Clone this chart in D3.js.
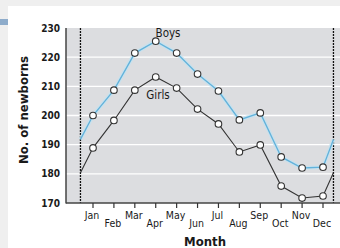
<!DOCTYPE html>
<html>
<head>
<meta charset="utf-8">
<script src="https://cdn.jsdelivr.net/npm/d3@7"></script>
<style>
body { margin: 0; background: #efefef; }
svg { display: block; }
text { font-family: "DejaVu Sans Condensed", "Liberation Sans Narrow", sans-serif; font-stretch: condensed; fill: #1a1a1a; }
</style>
</head>
<body>
<div id="chart"></div>
<script>
var months = ["Jan", "Feb", "Mar", "Apr", "May", "Jun", "Jul", "Aug", "Sep", "Oct", "Nov", "Dec"];
var boys = [200, 208.7, 221.4, 225.5, 221.4, 214.2, 208.4, 198.5, 200.9, 185.8, 182, 182.3];
var girls = [188.9, 198.3, 208.7, 213.2, 209.4, 202.2, 197.1, 187.5, 189.9, 175.8, 171.7, 172.4];
// values where the lines meet the dashed year boundaries
var boysEdge = 191.8;
var girlsEdge = 180.4;
var yTicks = [170, 180, 190, 200, 210, 220, 230];

var _width = 340, _height = 248;

var svg = d3.select("#chart").append("svg")
    .attr("width", _width)
    .attr("height", _height);

// page frame
svg.append("rect").attr("x", 8).attr("y", 6).attr("width", _width - 8).attr("height", _height - 6).attr("fill", "#fff");
svg.append("rect").attr("x", 0).attr("y", 19).attr("width", 8).attr("height", 6).attr("fill", "#8eaccb");

var x = d3.scaleLinear().domain([0, 11]).range([93, 323]);
var y = d3.scaleLinear().domain([170, 230]).range([203, 28]);
var xLeft = x(-0.6), xRight = x(11.5);

// plot background
svg.append("rect")
    .attr("x", 66).attr("y", y(230))
    .attr("width", _width - 66).attr("height", y(170) - y(230))
    .attr("fill", "#dcdde0");

// grid
svg.selectAll("line.grid").data(yTicks.slice(1, -1)).enter().append("line")
    .attr("class", "grid")
    .attr("x1", 66).attr("x2", _width)
    .attr("y1", function (d) { return y(d); })
    .attr("y2", function (d) { return y(d); })
    .style("stroke", "#fff")
    .style("stroke-width", 1.3);

// dashed year boundaries
[xLeft, xRight].forEach(function (xx) {
    svg.append("line")
        .attr("x1", xx).attr("x2", xx)
        .attr("y1", y(230)).attr("y2", y(170))
        .style("stroke", "#111")
        .style("stroke-width", 1.3)
        .style("stroke-dasharray", "2,1");
});

// axes
svg.append("line").attr("x1", 66).attr("x2", 66).attr("y1", y(230)).attr("y2", y(170) + 0.5)
    .style("stroke", "#444").style("stroke-width", 1.5);
svg.append("line").attr("x1", 66).attr("x2", _width).attr("y1", y(170)).attr("y2", y(170))
    .style("stroke", "#444").style("stroke-width", 1.5);

svg.selectAll("text.ytick").data(yTicks).enter().append("text")
    .attr("class", "ytick")
    .attr("x", 60)
    .attr("y", function (d) { return y(d) + 3.5; })
    .attr("text-anchor", "end")
    .style("font-size", "10px")
    .style("font-weight", "bold")
    .text(function (d) { return d; });

// month ticks and staggered labels
svg.selectAll("line.xtick").data(months).enter().append("line")
    .attr("class", "xtick")
    .attr("x1", function (d, i) { return x(i); })
    .attr("x2", function (d, i) { return x(i); })
    .attr("y1", y(170)).attr("y2", y(170) + 5)
    .style("stroke", "#333").style("stroke-width", 1.2);

svg.selectAll("text.xlab").data(months).enter().append("text")
    .attr("class", "xlab")
    .attr("x", function (d, i) { return x(i) - 1; })
    .attr("y", function (d, i) { return i % 2 == 0 ? 219 : 227; })
    .attr("text-anchor", "middle")
    .style("font-size", "10.5px")
    .text(function (d) { return d; });

// series
function pts(vals, edge) {
    var p = [[xLeft, y(edge)]];
    vals.forEach(function (v, i) { p.push([x(i), y(v)]); });
    p.push([xRight, y(edge)]);
    return p;
}
var line = d3.line();

svg.append("path").attr("d", line(pts(boys, boysEdge)))
    .attr("fill", "none").style("stroke", "#c4e2f0").style("stroke-width", 4).style("opacity", 0.8);
svg.append("path").attr("d", line(pts(boys, boysEdge)))
    .attr("fill", "none").style("stroke", "#62b2db").style("stroke-width", 1.3);
svg.append("path").attr("d", line(pts(girls, girlsEdge)))
    .attr("fill", "none").style("stroke", "#333").style("stroke-width", 1.1);

[boys, girls].forEach(function (vals) {
    svg.append("g").selectAll("circle").data(vals).enter().append("circle")
        .attr("cx", function (d, i) { return x(i); })
        .attr("cy", function (d) { return y(d); })
        .attr("r", 3.3)
        .style("fill", "#fff")
        .style("stroke", "#333")
        .style("stroke-width", 1.1);
});

svg.append("text").attr("x", 168).attr("y", 37).attr("text-anchor", "middle")
    .style("font-size", "11.5px").text("Boys");
svg.append("text").attr("x", 158).attr("y", 99).attr("text-anchor", "middle")
    .style("font-size", "11.5px").text("Girls");

// axis titles
svg.append("text")
    .attr("transform", "translate(28,110) rotate(-90)")
    .attr("text-anchor", "middle")
    .style("font-size", "13px")
    .style("font-weight", "bold")
    .text("No. of newborns");
svg.append("text").attr("x", 205).attr("y", 246).attr("text-anchor", "middle")
    .style("font-size", "13px").style("font-weight", "bold").text("Month");
</script>
</body>
</html>
